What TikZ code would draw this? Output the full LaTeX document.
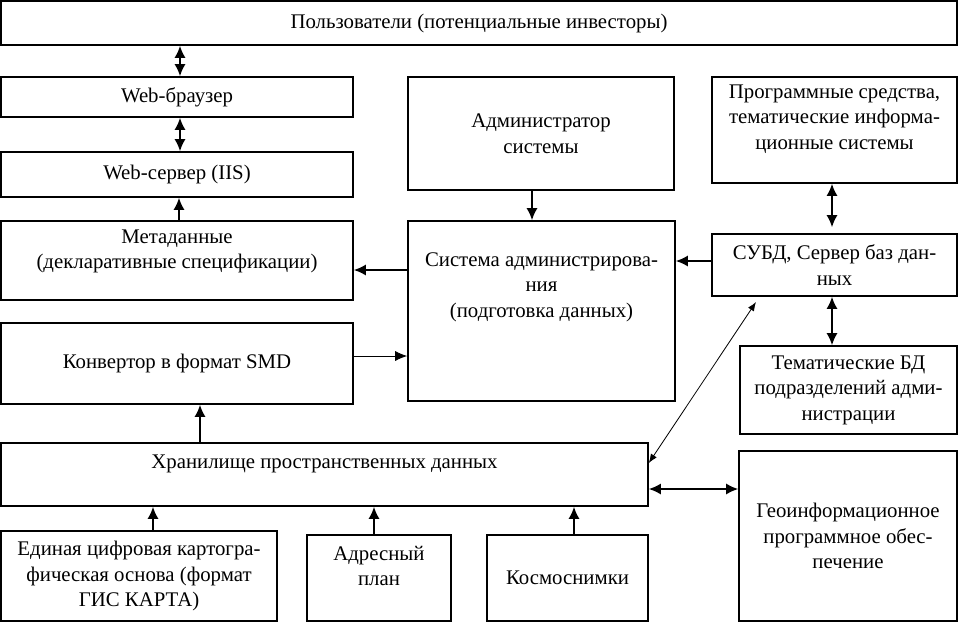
\documentclass[tikz,border=0pt]{standalone}
\usepackage{fontspec}
\setmainfont{Liberation Serif}
\usetikzlibrary{arrows.meta}

\begin{document}
\begin{tikzpicture}[x=1pt,y=-1pt]
\tikzset{
box/.style={rectangle, draw=black, line width=1.6pt, inner sep=2pt, align=center,
font=\fontsize{20.8}{25.5}\selectfont},
myarrow/.style={-{Latex[length=12pt,width=11pt]}, line width=1.6pt},
dblarrow/.style={{Latex[length=12pt,width=11pt]}-{Latex[length=12pt,width=11pt]}, line width=1.6pt},
thinarrow/.style={-{Latex[length=12pt,width=10pt]}, line width=0.8pt},
thindbl/.style={{Latex[length=9pt,width=7pt]}-{Latex[length=9pt,width=7pt]}, line width=0.8pt},
}
\useasboundingbox (0,0) rectangle (958,622);

% left column
\node [box, minimum width=956pt, minimum height=44pt] (users) at (479,23) {Пользователи (потенциальные инвесторы)};
\node [box, minimum width=352pt, minimum height=40pt] (browser) at (177,97) {Web-браузер};
\node [box, minimum width=352pt, minimum height=45pt] (webserver) at (177,174.5) {Web-сервер (IIS)};
\node [box, minimum width=352pt, minimum height=79pt, text depth=22.5pt] (meta) at (177,260.5) {Метаданные\\(декларативные спецификации)};
\node [box, minimum width=352pt, minimum height=81pt] (conv) at (177,363.5) {Конвертор в формат SMD};
\node [box, minimum width=647pt, minimum height=63pt, text depth=26.5pt] (store) at (324.5,474.5) {Хранилище пространственных данных};
% middle column
\node [box, minimum width=266pt, minimum height=113pt] (admin) at (541,133.5) {Администратор\\системы};
\node [box, minimum width=267pt, minimum height=180pt, text depth=52.5pt] (sysadm) at (541.5,311) {Система администрирова-\\ния\\(подготовка данных)};
% right column
\node [box, minimum width=245pt, minimum height=106pt, text depth=26pt] (progs) at (834.5,130) {Программные средства,\\тематические информа-\\ционные системы};
\node [box, minimum width=245pt, minimum height=62pt] (dbms) at (834.5,265) {СУБД, Сервер баз дан-\\ных};
\node [box, minimum width=217pt, minimum height=88pt] (thematic) at (848.5,390) {Тематические БД\\подразделений адми-\\нистрации};
\node [box, minimum width=218pt, minimum height=170pt] (geo) at (848,536) {Геоинформационное\\программное обес-\\печение};
% sources
\node [box, minimum width=276pt, minimum height=90pt] (unified) at (139,576) {Единая цифровая картогра-\\фическая основа (формат\\ГИС КАРТА)};
\node [box, minimum width=144pt, minimum height=86pt, text depth=24pt] (address) at (379,578) {Адресный\\план};
\node [box, minimum width=161pt, minimum height=86pt] (cosmos) at (567.5,578) {Космоснимки};
\coordinate (dbmsend) at (756,302);

\draw[dblarrow] ([xshift=3pt]browser.north) -- ([xshift=3pt]browser.north |- users.south);
\draw[dblarrow] ([xshift=3pt]webserver.north) -- ([xshift=3pt]browser.south);
\draw[myarrow] ([xshift=2pt]meta.north) -- ([xshift=2pt]webserver.south);
\draw[myarrow] ([yshift=41pt]sysadm.west) -- ([yshift=41pt]sysadm.west -| meta.east);
\draw[thinarrow] ([yshift=7.5pt]conv.east) -- ([yshift=7.5pt]conv.east -| sysadm.west);
\draw[myarrow] ([xshift=23pt]conv.south |- store.north) -- ([xshift=23pt]conv.south);
\draw[myarrow] ([xshift=-9pt]admin.south) -- ([xshift=-9pt]admin.south |- sysadm.north);
\draw[myarrow] ([yshift=4pt]dbms.west) -- ([yshift=4pt]dbms.west -| sysadm.east);
\draw[dblarrow, shorten <=6pt] ([xshift=-2.5pt]dbms.north) -- ([xshift=-2.5pt]dbms.north |- progs.south);
\draw[dblarrow] ([xshift=-2.5pt]dbms.south) -- ([xshift=-2.5pt]dbms.south |- thematic.north);
\draw[thindbl] ([yshift=11.5pt]store.east) -- (dbmsend);
\draw[dblarrow] ([yshift=-14.5pt]store.east) -- ([yshift=-14.5pt]store.east -| geo.west);
\draw[myarrow] ([xshift=14pt]unified.north) -- ([xshift=14pt]unified.north |- store.south);
\draw[myarrow] ([xshift=-5pt]address.north) -- ([xshift=-5pt]address.north |- store.south);
\draw[myarrow] ([xshift=6.5pt]cosmos.north) -- ([xshift=6.5pt]cosmos.north |- store.south);
\end{tikzpicture}
\end{document}
